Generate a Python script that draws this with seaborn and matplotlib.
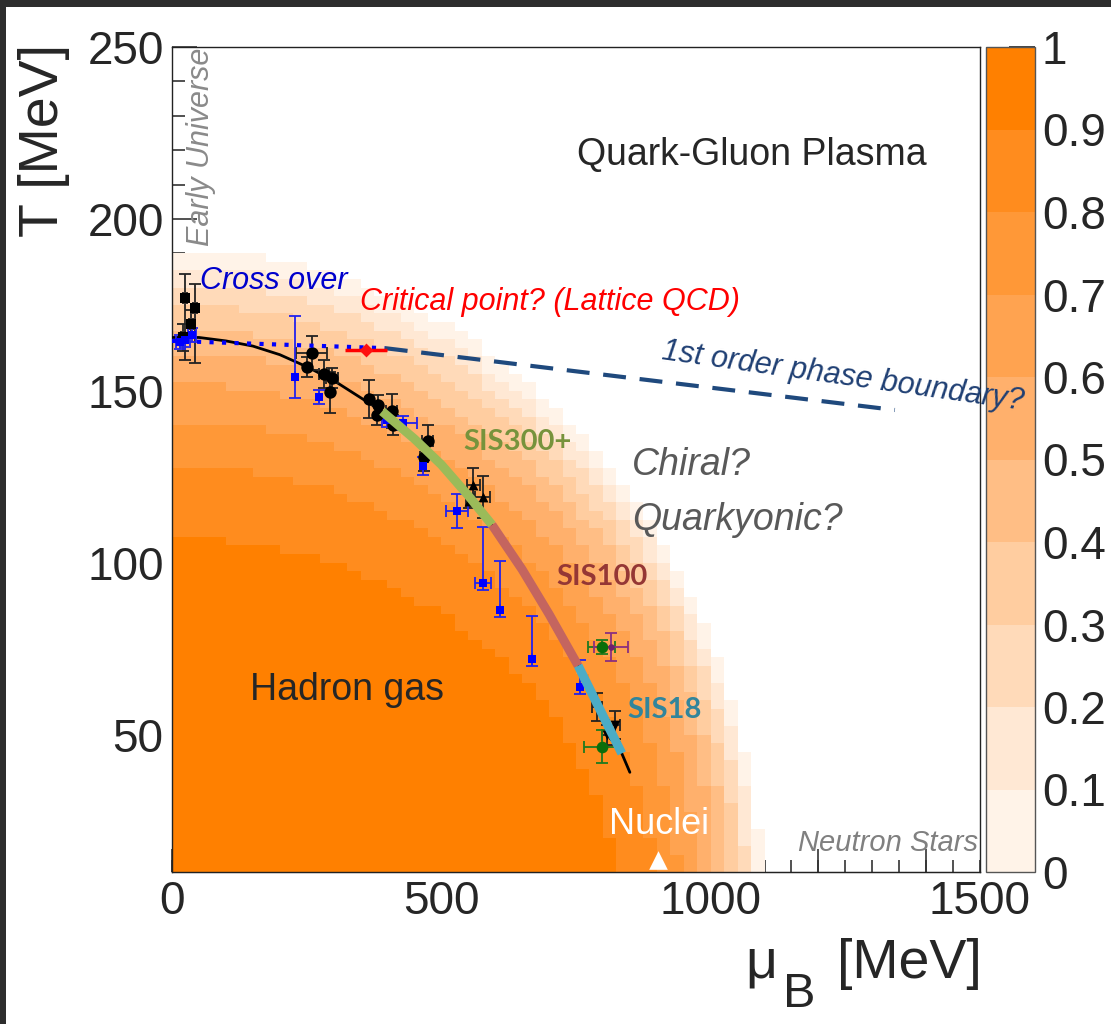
import numpy as np
import pandas as pd
import matplotlib
matplotlib.use("Agg")
import matplotlib.pyplot as plt
from matplotlib.colors import ListedColormap, BoundaryNorm
from matplotlib.ticker import MultipleLocator, FixedLocator, NullLocator
from matplotlib.patches import Rectangle
import seaborn as sns

# ---------------- data ----------------
# Hadron-phase shading: band edges are ellipses centred on the origin.
# Semi-axes (MeV) of the edge of each band, for levels 0, 0.1, ..., 0.9
band_levels = [0.0, 0.1, 0.2, 0.3, 0.4, 0.5, 0.6, 0.7, 0.8, 0.9]
band_mu_axis = [1095, 1082, 1068, 1053, 1035, 1012, 980, 943, 898, 826]
band_T_axis = [191, 186, 181, 175, 168, 161, 152, 141, 128, 107]
band_colors = ["#fff3e8", "#ffe8d4", "#ffdab9", "#ffcda0", "#ffbe85",
               "#ffb06c", "#ffa350", "#ff9837", "#ff8c1e", "#ff8000"]
cbar_ticks = [0.0, 0.1, 0.2, 0.3, 0.4, 0.5, 0.6, 0.7, 0.8, 0.9, 1.0]
cbar_labels = ["0", "0.1", "0.2", "0.3", "0.4", "0.5", "0.6", "0.7", "0.8", "0.9", "1"]
x_tick_vals = [0, 500, 1000, 1500]
x_tick_labels = ["0", "500", "1000", "1500"]

# chemical freeze-out curve (mu_B, T) in MeV
fo_mu = [0, 50, 100, 150, 200, 250, 300, 350, 390, 450, 500, 550, 594, 650, 700, 754, 800, 835, 850]
fo_T = [165.5, 165.5, 164.5, 163, 160.5, 157, 153, 148, 144, 136, 128.5, 119.5, 111, 98, 85, 70, 55.5, 44.5, 39]

# accelerator coverage along the freeze-out curve
sis_names = ["SIS300+", "SIS100", "SIS18"]
sis_mu_lo = [390, 594, 754]
sis_mu_hi = [594, 754, 835]
sis_line_colors = ["#9bbb59", "#c4655f", "#4bacc6"]
sis_text_colors = ["#77933c", "#953735", "#31859c"]

# phase boundaries
crossover_mu = [0, 395]
crossover_T = [164.5, 162.4]
first_order_mu = [395, 1342]
first_order_T = [162.4, 144.4]

# critical point (lattice QCD)
cp_mu = [360]
cp_T = [161.9]
cp_mu_err = [39]

# freeze-out points: black squares
bsq_mu = [24, 43, 35, 20]
bsq_T = [177, 174, 169.5, 165.5]
bsq_T_up = [7, 7, 4, 4]
bsq_T_dn = [18, 16, 4, 4]

# freeze-out points: black circles
bci_mu = [259, 250, 282, 297, 293, 366, 383, 380, 408, 411, 475, 468]
bci_T = [161.0, 156.9, 154.9, 153.7, 149.6, 147.6, 145.9, 142.9, 144.1, 140.0, 135.4, 130.7]
bci_T_err = [5, 3, 4, 3, 6, 5.5, 3, 3, 5, 3, 4.5, 4]
bci_mu_err = [28, 0, 10, 12, 0, 0, 0, 0, 10, 0, 10, 8]

# freeze-out points: black triangles (up / down)
btu_mu = [559, 577, 551]
btu_T = [122.6, 119.1, 117.9]
btu_T_err = [5, 6, 2]
btu_mu_err = [12, 14, 5]
btd_mu = [789, 822, 807]
btd_T = [58.0, 52.8, 49.9]
btd_T_err = [4, 4, 3]
btd_mu_err = [10, 10, 8]

# freeze-out points: blue squares
blu_mu = [15, 25, 37, 228, 273, 399, 429, 466, 529, 577, 609, 668, 757]
blu_T = [164.2, 164.8, 166.2, 154.0, 148.2, 141.5, 140.6, 128.1, 115.0, 94.1, 86.1, 72.0, 63.8]
blu_T_up = [2, 2, 2, 17.7, 2, 2, 2, 2.5, 5, 16.3, 14.5, 12.5, 8]
blu_T_dn = [2, 2, 2, 6, 2, 2, 2, 2.5, 5, 2, 2, 2, 2]
blu_mu_err = [8, 8, 8, 0, 0, 10, 25, 0, 20, 15, 0, 0, 0]

# green circles and purple point
grn_mu = [798, 798]
grn_T = [75.5, 46.4]
grn_T_err = [2, 4.8]
grn_mu_err = [25, 34]
prp_mu = [815]
prp_T = [75.5]
prp_T_err = [4]
prp_mu_err = [32]

# nuclei marker
nuc_mu = [902]
nuc_T = [13.5]

# ---------------- style ----------------
sns.set_style("ticks")
plt.rcParams["font.family"] = ["Liberation Sans", "DejaVu Sans"]

W, H = 1111, 1024
fig = plt.figure(figsize=(W / 100, H / 100), dpi=100)
fig.patch.set_facecolor("white")


def fx(px):
    return px / W


def fy(py):
    return 1 - py / H


ax = fig.add_axes([fx(172), fy(872), (980 - 172) / W, (872 - 47) / H])
cax = fig.add_axes([fx(986), fy(872), (1035 - 986) / W, (872 - 47) / H])
cax.set_zorder(1)
ax.set_zorder(2)

# ---------------- shaded hadron region ----------------
mu_edges = np.arange(0, 1501, 25)
T_edges = np.arange(10, 250.1, 2.5)
mu_c = 0.5 * (mu_edges[:-1] + mu_edges[1:])
T_c = 0.5 * (T_edges[:-1] + T_edges[1:])
MM, TT = np.meshgrid(mu_c, T_c)
count = np.zeros_like(MM, dtype=int)
for a, b in zip(band_mu_axis, band_T_axis):
    count += ((MM / a) ** 2 + (TT / b) ** 2 < 1).astype(int)
lev = np.array(band_levels)
vals = np.where(count > 0, lev[np.clip(count - 1, 0, 9)] + 0.05, np.nan)
vals = np.ma.masked_invalid(vals)
cmap = ListedColormap(band_colors)
norm = BoundaryNorm(cbar_ticks, ncolors=10)
mesh = ax.pcolormesh(mu_edges, T_edges, vals, cmap=cmap, norm=norm,
                     shading="flat", zorder=1, rasterized=True)

# ---------------- freeze-out curve ----------------
fo = pd.DataFrame({"mu": fo_mu, "T": fo_T})
sns.lineplot(data=fo, x="mu", y="T", ax=ax, color="black", lw=2.0,
             sort=False, estimator=None, zorder=3)

# ---------------- data points ----------------
ekw = dict(fmt="none", elinewidth=1.3, capsize=4, capthick=1.3, zorder=4)
ax.errorbar(bsq_mu, bsq_T, yerr=[bsq_T_dn, bsq_T_up], xerr=4, ecolor="#222222", **ekw)
ax.errorbar(bci_mu, bci_T, yerr=bci_T_err, xerr=bci_mu_err, ecolor="#222222", **ekw)
ax.errorbar(btu_mu, btu_T, yerr=btu_T_err, xerr=btu_mu_err, ecolor="#222222", **ekw)
ax.errorbar(btd_mu, btd_T, yerr=btd_T_err, xerr=btd_mu_err, ecolor="#222222", **ekw)
ax.errorbar(blu_mu, blu_T, yerr=[blu_T_dn, blu_T_up], xerr=blu_mu_err, ecolor="#2222ee", **ekw)
ax.errorbar(grn_mu, grn_T, yerr=grn_T_err, xerr=grn_mu_err, ecolor="#1f7a1f", **ekw)
ax.errorbar(prp_mu, prp_T, yerr=prp_T_err, xerr=prp_mu_err, ecolor="#8b2f7f", **ekw)

skw = dict(ax=ax, linewidth=0, legend=False, zorder=5)
sns.scatterplot(x=bsq_mu, y=bsq_T, marker="s", s=45, color="black", **skw)
sns.scatterplot(x=bci_mu, y=bci_T, marker="o", s=80, color="black", **skw)
sns.scatterplot(x=btu_mu, y=btu_T, marker="^", s=50, color="black", **skw)
sns.scatterplot(x=btd_mu, y=btd_T, marker="v", s=50, color="black", **skw)
sns.scatterplot(x=blu_mu, y=blu_T, marker="s", s=36, color="#0000ff", **skw)
sns.scatterplot(x=grn_mu, y=grn_T, marker="o", s=70, color="#0a6e0a", **skw)
sns.scatterplot(x=prp_mu, y=prp_T, marker="o", s=22, color="#6e1f6e", **skw)

# ---------------- accelerator ranges ----------------
for lo, hi, c in zip(sis_mu_lo, sis_mu_hi, sis_line_colors):
    seg = fo[(fo["mu"] >= lo) & (fo["mu"] <= hi)]
    sns.lineplot(data=seg, x="mu", y="T", ax=ax, color=c, lw=6.5,
                 sort=False, estimator=None, zorder=6)
    ax.lines[-1].set_solid_capstyle("butt")

# ---------------- phase boundaries ----------------
sns.lineplot(x=crossover_mu, y=crossover_T, ax=ax, color="#0000ff", lw=3.0,
             sort=False, estimator=None, zorder=7)
ax.lines[-1].set_dashes([1.0, 2.0])
ax.lines[-1].set_dash_capstyle("butt")
sns.lineplot(x=first_order_mu, y=first_order_T, ax=ax, color="#1f497d", lw=3.0,
             sort=False, estimator=None, zorder=7)
ax.lines[-1].set_dashes([5.5, 3.3])
ax.lines[-1].set_dash_capstyle("butt")

ax.errorbar(cp_mu, cp_T, xerr=cp_mu_err, fmt="none", ecolor="#ff0000",
            elinewidth=2.5, capsize=0, zorder=8)
sns.scatterplot(x=cp_mu, y=cp_T, marker="D", s=50, color="#ff1010",
                ax=ax, linewidth=0, legend=False, zorder=9)

sns.scatterplot(x=nuc_mu, y=nuc_T, marker="^", s=180, color="white",
                ax=ax, linewidth=0, legend=False, zorder=9)

# ---------------- annotations ----------------
ax.text(1077, 218.6, "Quark-Gluon Plasma", fontsize=27, ha="center", va="center", zorder=10)
ax.text(325, 63, "Hadron gas", fontsize=27, ha="center", va="center", zorder=10)
ax.text(854, 128.4, "Chiral?", fontsize=27, style="italic", color="#595959",
        ha="left", va="center", zorder=10)
ax.text(854, 112.4, "Quarkyonic?", fontsize=27, style="italic", color="#595959",
        ha="left", va="center", zorder=10)
ax.text(52, 182, "Cross over", fontsize=22, style="italic", color="#0000cc",
        ha="left", va="center", zorder=10)
ax.text(349, 175.8, "Critical point? (Lattice QCD)", fontsize=22, style="italic",
        color="#ff0000", ha="left", va="center", zorder=10)
ax.text(1245, 154.2, "1st order phase boundary?", fontsize=22, style="italic",
        color="#1f3f73", ha="center", va="center", rotation=-8,
        rotation_mode="anchor", zorder=10)
ax.text(54, 221, "Early Universe", fontsize=22, style="italic", color="#8a8a8a",
        ha="center", va="center", rotation=90, zorder=10)
ax.text(1496, 18.4, "Neutron Stars", fontsize=21, style="italic", color="#808080",
        ha="right", va="center", zorder=10)
ax.text(904, 23.7, "Nuclei", fontsize=26, color="white", ha="center", va="center", zorder=10)

sis_text_pos = [(540, 135), (713, 95.8), (845, 57)]
for name, (tx, ty), c in zip(sis_names, sis_text_pos, sis_text_colors):
    ax.text(tx, ty, name, fontsize=21, fontweight="bold", color=c,
            family=["Lato", "DejaVu Sans"], ha="left", va="center", zorder=10)

# ---------------- axes ----------------
ax.set_xlim(0, 1500)
ax.set_ylim(10, 250)
ax.set_xlabel("")
ax.set_ylabel("")
for sp in ax.spines.values():
    sp.set_visible(True)
    sp.set_color("#222222")
    sp.set_linewidth(1.0)

ax.yaxis.set_major_locator(MultipleLocator(50))
ax.yaxis.set_minor_locator(MultipleLocator(10))
ax.tick_params(axis="y", which="major", direction="in", length=18, width=1.2,
               labelsize=33, pad=6, color="#333333", right=False)
ax.tick_params(axis="y", which="minor", direction="in", length=9, width=1.2,
               color="#333333", right=False)

ax.xaxis.set_major_locator(FixedLocator(x_tick_vals))
ax.set_xticklabels(x_tick_labels)
ax.xaxis.set_minor_locator(MultipleLocator(50))
ax.xaxis.remove_overlapping_locs = False
ax.tick_params(axis="x", which="major", direction="in", length=0,
               labelsize=33, pad=6, top=False)
ax.tick_params(axis="x", which="minor", direction="in", length=8.5, width=1.2,
               color="#333333", top=False)

sec = ax.secondary_xaxis("bottom")
sec.set_xticks(np.arange(0, 1501, 200))
sec.xaxis.set_minor_locator(NullLocator())
sec.tick_params(direction="in", length=16.5, width=1.2, color="#333333",
                labelbottom=False)
sec.spines["bottom"].set_color("#222222")

# axis titles
fig.text(fx(44), fy(44), "T [MeV]", rotation=90, ha="center", va="top", fontsize=40)
fig.text(fx(761), fy(978), "\u03bc", ha="center", va="baseline", fontsize=40)
fig.text(fx(783), fy(1007), "B", ha="left", va="baseline", fontsize=35)
fig.text(fx(982), fy(978), "[MeV]", ha="right", va="baseline", fontsize=40)

# ---------------- colour bar ----------------
cb = fig.colorbar(mesh, cax=cax, ticks=cbar_ticks)
cb.set_ticklabels(cbar_labels)
cb.ax.yaxis.set_minor_locator(NullLocator())
cb.ax.tick_params(direction="in", length=19, width=1.2, labelsize=33, pad=5,
                  color="#222222", right=True, left=False)
cb.outline.set_edgecolor("#555555")
cb.outline.set_linewidth(1.0)

# window frame strips
fig.patches.append(Rectangle((0, fy(7)), 1, 7 / H, transform=fig.transFigure,
                             facecolor="#2d2d2d", edgecolor="none", zorder=20))
fig.patches.append(Rectangle((0, 0), 6 / W, 1, transform=fig.transFigure,
                             facecolor="#2d2d2d", edgecolor="none", zorder=20))

fig.savefig("out.png", dpi=100)
